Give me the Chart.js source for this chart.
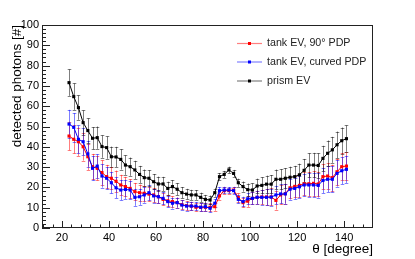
<!DOCTYPE html>
<html>
<head>
<meta charset="utf-8">
<script src="https://cdn.jsdelivr.net/npm/chart.js@4"></script>
<style>
html,body{margin:0;padding:0;background:#fff;}
#wrap{width:415px;height:259px;position:relative;}
</style>
</head>
<body>
<div id="wrap"><canvas id="c" width="415" height="259"></canvas></div>
<script>
const theta = [23,25,27,29,31,33,35,37,39,41,43,45,47,49,51,53,55,57,59,61,63,65,67,69,71,73,75,77,79,81,83,85,87,89,91,93,95,97,99,101,103,105,107,109,111,113,115,117,119,121,123,125,127,129,131,133,135,137,139,141];

const tankFlat = [45.3,43.7,42.5,40,35.1,30.2,29.4,27.3,25.3,24.5,23,21.2,20.4,19.5,17.9,17.4,17.1,16.7,16.3,15.4,14.1,13.4,13,12.5,11.5,11,10.8,10.2,10.2,10.2,10.2,10.5,15.8,18.4,18.4,18.7,15,12.5,13.2,14.6,15.1,15.3,15.3,15.3,13.6,16.3,16.9,19.8,20.5,21,21.8,21.8,22,21.7,25.3,25.6,24.8,27.7,30.2,30.5];
const tankFlatErr = [7,7,7,6.8,6.5,6.3,6,6,5.8,5.5,5.3,5,4.8,4.5,4.3,4,3.8,3.6,3.4,3.2,3,2.8,2.6,2.5,2.3,2.2,2.1,2,2,2,2,2,1.8,1.6,1.5,1.6,2,2.4,2.8,3,3.3,3.6,4,4.2,4.5,4.7,4.9,5.1,5.3,5.5,5.6,5.8,6,6,6.2,6.3,6.4,6.5,6.6,6.7];

const tankCurved = [51.2,49.6,43.7,42.5,36.5,29.4,30.5,25.6,24.5,22.3,19.8,18.7,19,18.7,15.1,15.4,16.3,17.4,15.8,15.4,14.6,13,12.2,12.5,11.3,10.8,10.8,10.8,10.2,10.5,9.7,12.2,18.4,18.7,18.7,18.4,14.1,13,14.4,14.6,15.1,15.1,15.1,15.2,16.3,16.8,16.8,19.1,19.5,20.3,21.2,21.2,21.2,21,23.4,24,24,26.9,28.2,28.9];
const tankCurvedErr = [7,7,6.8,6.6,6.3,6,5.8,5.7,5.5,5.3,5.1,5,4.7,4.5,4.2,4,3.8,3.6,3.4,3.2,3,2.8,2.6,2.5,2.3,2.2,2.1,2,2,2,2,2,1.8,1.6,1.5,1.6,2,2.4,2.8,3,3.3,3.6,4,4.2,4.5,4.7,4.9,5.1,5.3,5.5,5.6,5.8,6,6,6.2,6.3,6.4,6.5,6.6,6.7];

const prism = [71.6,64.7,59.3,51.9,48,44.2,44.5,40.1,39.6,35.1,35,33.8,31,30.2,28.6,26.4,24.8,24.5,22.8,21.7,21.7,19.5,20.4,19.1,17.4,16.7,16.3,16.3,15.1,14.1,13.8,17.4,25.3,26.4,28.6,26.9,22.3,20.4,18.9,18.7,20.7,21,21.6,21.6,24,24,24.5,25,25.3,26.2,28.4,31,31,30.8,34.3,36.8,38.5,41,43,44];
const prismErr = [6.5,6.5,6,6,6,5.5,5.5,5.5,5.5,5,5,5,4.8,4.5,4.5,4.2,4,4,3.8,3.6,3.5,3.3,3.2,3,2.8,2.6,2.5,2.4,2.3,2.2,2.2,2,1.8,1.7,1.6,1.7,2,2.5,3,3.3,3.6,4,4.2,4.5,4.8,5,5,5.2,5.3,5.5,5.6,5.8,6,6,6.2,6.3,6.4,6.5,6.5,6.5];

const seriesNames = ['tank EV, 90\u00b0 PDP','tank EV, curved PDP','prism EV'];
const seriesColors = ['#ff0000','#0000ff','#000000'];
const barColors = ['rgba(255,0,0,0.5)','rgba(0,0,255,0.5)','rgba(0,0,0,0.5)'];
const xTicks = [20,40,60,80,100,120,140];
const yTicks = [0,10,20,30,40,50,60,70,80,90,100];
const xTitle = '\u03b8 [degree]';
const yTitle = 'detected photons [#]';

const values = [tankFlat, tankCurved, prism];
const errors = [tankFlatErr, tankCurvedErr, prismErr];

const FONT = '"Liberation Sans", Arial, Helvetica, sans-serif';

function mkDs(i, order){
  return {
    label: seriesNames[i],
    data: theta.map((t,j)=>({x:t, y:values[i][j]})),
    borderColor: seriesColors[i],
    backgroundColor: seriesColors[i],
    borderWidth: 1,
    pointStyle: 'rect',
    pointRadius: 2.2,
    pointBorderWidth: 0,
    pointHoverRadius: 2.2,
    tension: 0,
    order: order,
    errIndex: i
  };
}

const rootPlugin = {
  id: 'rootStyle',
  beforeDatasetsDraw(chart){
    const ctx = chart.ctx, xs = chart.scales.x, ys = chart.scales.y;
    ctx.save();
    ctx.beginPath();
    ctx.rect(chart.chartArea.left, chart.chartArea.top, chart.chartArea.right-chart.chartArea.left, chart.chartArea.bottom-chart.chartArea.top);
    ctx.clip();
    ctx.lineWidth = 1;
    for (let i=0;i<3;i++){
      ctx.strokeStyle = barColors[i];
      ctx.beginPath();
      for (let j=0;j<theta.length;j++){
        const x = Math.round(xs.getPixelForValue(theta[j]))+0.5;
        const y1 = ys.getPixelForValue(values[i][j]+errors[i][j]);
        const y2 = ys.getPixelForValue(values[i][j]-errors[i][j]);
        ctx.moveTo(x,y1); ctx.lineTo(x,y2);
        ctx.moveTo(x-1.8,Math.round(y1)+0.5); ctx.lineTo(x+1.8,Math.round(y1)+0.5);
        ctx.moveTo(x-1.8,Math.round(y2)+0.5); ctx.lineTo(x+1.8,Math.round(y2)+0.5);
      }
      ctx.stroke();
    }
    ctx.restore();
  },
  afterDraw(chart){
    const ctx = chart.ctx, xs = chart.scales.x, ys = chart.scales.y, a = chart.chartArea;
    ctx.save();
    // frame
    ctx.strokeStyle = '#222';
    ctx.lineWidth = 1;
    ctx.strokeRect(Math.round(a.left)+0.5, Math.round(a.top)+0.5, Math.round(a.right-a.left)-1, Math.round(a.bottom-a.top)-1);
    // ticks inside the frame
    ctx.beginPath();
    for (let v=0; v<=100; v+=2){
      const y = Math.round(ys.getPixelForValue(v))+0.5;
      const len = (v%10===0)?8:4;
      ctx.moveTo(a.left, y); ctx.lineTo(a.left+len, y);
    }
    for (let v=12; v<=152; v+=4){
      const x = Math.round(xs.getPixelForValue(v))+0.5;
      const len = (v%20===0)?7:3.5;
      ctx.moveTo(x, a.bottom); ctx.lineTo(x, a.bottom-len);
    }
    ctx.stroke();
    // axis titles
    ctx.fillStyle = '#000';
    ctx.font = '13.5px ' + FONT;
    ctx.textAlign = 'right';
    ctx.textBaseline = 'alphabetic';
    ctx.fillText(xTitle, a.right, 253);
    ctx.save();
    ctx.translate(21, a.top);
    ctx.rotate(-Math.PI/2);
    ctx.textAlign = 'right';
    ctx.fillText(yTitle, 0, 0);
    ctx.restore();
    // legend
    const rows = [43.5, 62, 81];
    ctx.font = '10.7px ' + FONT;
    ctx.textAlign = 'left';
    ctx.textBaseline = 'middle';
    for (let i=0;i<3;i++){
      const y = rows[i];
      ctx.strokeStyle = barColors[i];
      ctx.lineWidth = 1.2;
      ctx.beginPath(); ctx.moveTo(237, y); ctx.lineTo(262, y); ctx.stroke();
      ctx.fillStyle = seriesColors[i];
      ctx.fillRect(248, y-1.5, 3, 3);
      ctx.fillStyle = '#222';
      ctx.fillText(seriesNames[i], 267, y);
    }
    ctx.restore();
  }
};

new Chart(document.getElementById('c'), {
  type: 'line',
  data: { datasets: [mkDs(0,3), mkDs(1,2), mkDs(2,1)] },
  options: {
    responsive: false,
    animation: false,
    events: [],
    layout: { padding: { left: 0, top: 25, right: 42, bottom: 0 } },
    plugins: { legend: { display: false }, tooltip: { enabled: false } },
    scales: {
      x: {
        type: 'linear', min: 11.5, max: 152.3,
        grid: { display: false, drawTicks: false },
        border: { display: false },
        afterBuildTicks: ax => { ax.ticks = xTicks.map(v => ({ value: v })); },
        afterFit: s => { s.height = 31; },
        ticks: { color: '#000', font: { family: FONT, size: 11 }, padding: 3, maxRotation: 0, autoSkip: false }
      },
      y: {
        type: 'linear', min: 0, max: 100,
        grid: { display: false, drawTicks: false },
        border: { display: false },
        afterBuildTicks: ax => { ax.ticks = yTicks.map(v => ({ value: v })); },
        afterFit: s => { s.width = 42; },
        ticks: { color: '#000', font: { family: FONT, size: 11 }, padding: 3, autoSkip: false }
      }
    }
  },
  plugins: [rootPlugin]
});
</script>
</body>
</html>
